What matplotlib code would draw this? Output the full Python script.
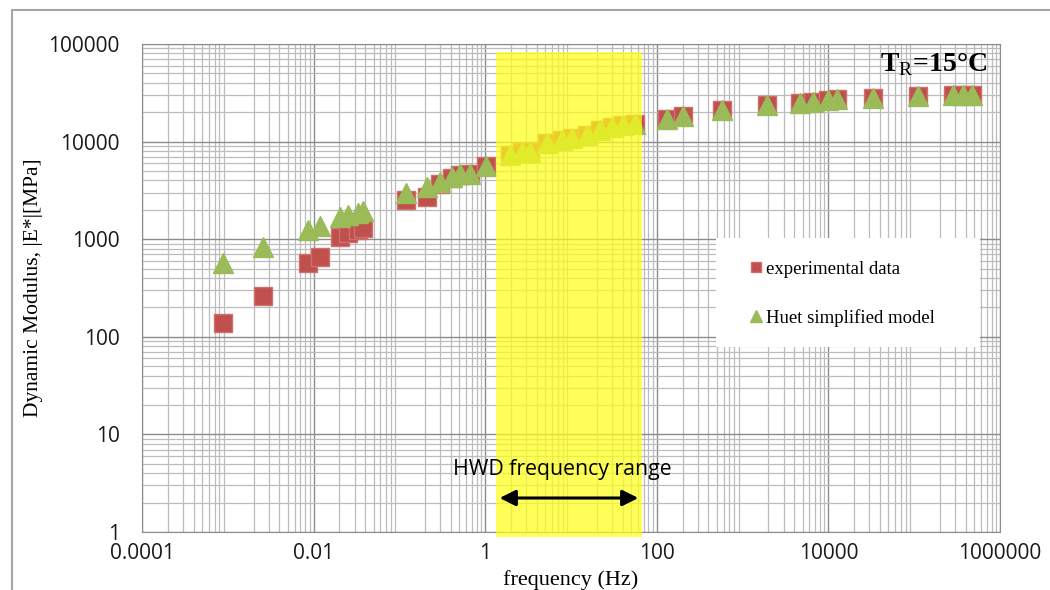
import matplotlib.pyplot as plt
from matplotlib.patches import Rectangle
from matplotlib.ticker import LogLocator, FixedLocator, FixedFormatter, NullFormatter

plt.rcParams['mathtext.fontset'] = 'custom'
plt.rcParams['mathtext.rm'] = 'Liberation Serif'
plt.rcParams['mathtext.bf'] = 'Liberation Serif:bold'

# reduced frequency (Hz)
freq = [0.00088, 0.00257, 0.0086, 0.0119, 0.0203, 0.0252, 0.0329, 0.0377,
        0.119, 0.21, 0.297, 0.41, 0.508, 0.665, 1.02,
        1.95, 2.68, 3.33, 5.25, 7.85, 10.3, 15.4, 21.8, 30, 40.4, 55.7,
        131, 202, 575, 1920, 4670, 6620, 9890, 12600, 33100, 111000,
        283000, 371000, 472000]

# |E*| measured (MPa)
e_exp = [138, 262, 570, 657, 1055, 1158, 1243, 1302,
         2520, 2710, 3680, 4240, 4550, 4700, 5620,
         7290, 7820, 7820, 9680, 10400, 10900, 11700, 13200, 14100, 14800, 15100,
         17000, 18300, 21100, 23700, 24800, 25400, 26700, 27300, 28000, 29300,
         30000, 30000, 30000]

# |E*| Huet simplified model (MPa)
e_model = [570, 832, 1243, 1365, 1690, 1770, 1855, 1945,
           2970, 3430, 3860, 4340, 4660, 4660, 5620,
           7290, 7820, 7820, 9680, 10400, 10900, 11700, 13200, 14100, 14800, 15100,
           17000, 18300, 21100, 23700, 24800, 25400, 26700, 27300, 28000, 29300,
           30000, 30000, 30000]

hwd_range = (1.34, 67)
x_ticks = [0.0001, 0.01, 1, 100, 10000, 1000000]
x_labels = ['0.0001', '0.01', '1', '100', '10000', '1000000']
y_ticks = [1, 10, 100, 1000, 10000, 100000]
y_labels = ['1', '10', '100', '1000', '10000', '100000']

fig = plt.figure(figsize=(10.5, 5.9), dpi=100)
ax = fig.add_axes([142/1050, 58/590, 858/1050, 488/590])

# outer frame of the picture
fig.patches.append(Rectangle((12/1050, -0.05), 1.2, (580/590) + 0.05,
                             transform=fig.transFigure, fill=False,
                             edgecolor='#a6a6a6', lw=1.5, clip_on=False))

ax.set_xscale('log')
ax.set_yscale('log')
ax.set_xlim(1e-4, 1e6)
ax.set_ylim(1, 1e5)

ax.xaxis.set_major_locator(FixedLocator(x_ticks))
ax.xaxis.set_major_formatter(FixedFormatter(x_labels))
ax.yaxis.set_major_locator(FixedLocator(y_ticks))
ax.yaxis.set_major_formatter(FixedFormatter(y_labels))
ax.xaxis.set_minor_locator(LogLocator(base=10, subs=range(2, 10), numticks=50))
ax.yaxis.set_minor_locator(LogLocator(base=10, subs=range(2, 10), numticks=50))
ax.xaxis.set_minor_formatter(NullFormatter())
ax.yaxis.set_minor_formatter(NullFormatter())

ax.grid(True, which='major', color='#8c8c8c', lw=1.0)
ax.grid(True, which='minor', color='#bcbcbc', lw=0.9)
ax.set_axisbelow(True)
ax.tick_params(which='both', length=0)
ax.tick_params(axis='y', pad=16)
ax.tick_params(axis='x', pad=8)
for lab in ax.get_xticklabels() + ax.get_yticklabels():
    lab.set_fontfamily('Open Sans')
    lab.set_fontsize(15)
    lab.set_color('#1a1a1a')
for s in ax.spines.values():
    s.set_color('#8c8c8c')

ax.plot(freq, e_exp, 's', color='#c0504d', markersize=13, mec='#d0706d',
        label='experimental data', zorder=3)
ax.plot(freq, e_model, '^', color='#9bbb59', markersize=14, mec='#9bbb59',
        label='Huet simplified model', zorder=4)

# HWD band
ax.axvspan(hwd_range[0], hwd_range[1], ymin=-0.01, ymax=0.983, color='#ffff1a',
           alpha=0.72, lw=0, zorder=5, clip_on=False)
ax.annotate('', xy=(hwd_range[1] * 0.98, 2.23), xytext=(hwd_range[0] * 1.02, 2.23),
            arrowprops=dict(arrowstyle='<|-|>', color='black', lw=2.2,
                            mutation_scale=24), zorder=6)
ax.text(8.0, 4.4, 'HWD frequency range', family='Open Sans', fontsize=15.3,
        ha='center', va='center', zorder=6)

ax.text(0.985, 0.958, r'T$_\mathrm{R}$=15°C', transform=ax.transAxes,
        family='Liberation Serif', fontweight='bold', fontsize=20,
        ha='right', va='center', zorder=6)

# white legend box
ax.add_patch(Rectangle((0.669, 0.379), 0.308, 0.223, transform=ax.transAxes,
                       facecolor='white', edgecolor='none', zorder=6))
leg = ax.legend(loc='center left', bbox_to_anchor=(0.710, 0.488),
                prop={'family': 'Liberation Serif', 'size': 13.5},
                frameon=False, markerscale=0.6, handlelength=0.5,
                handletextpad=0.3, labelspacing=1.65, borderpad=0,
                borderaxespad=0)
leg.set_zorder(7)

ax.set_xlabel('frequency (Hz)', family='Liberation Serif', fontsize=16, labelpad=4)
ax.set_ylabel('Dynamic Modulus, |E*|[MPa]', family='Liberation Serif', fontsize=15.5,
              labelpad=4)

fig.savefig('out.png', dpi=100)
